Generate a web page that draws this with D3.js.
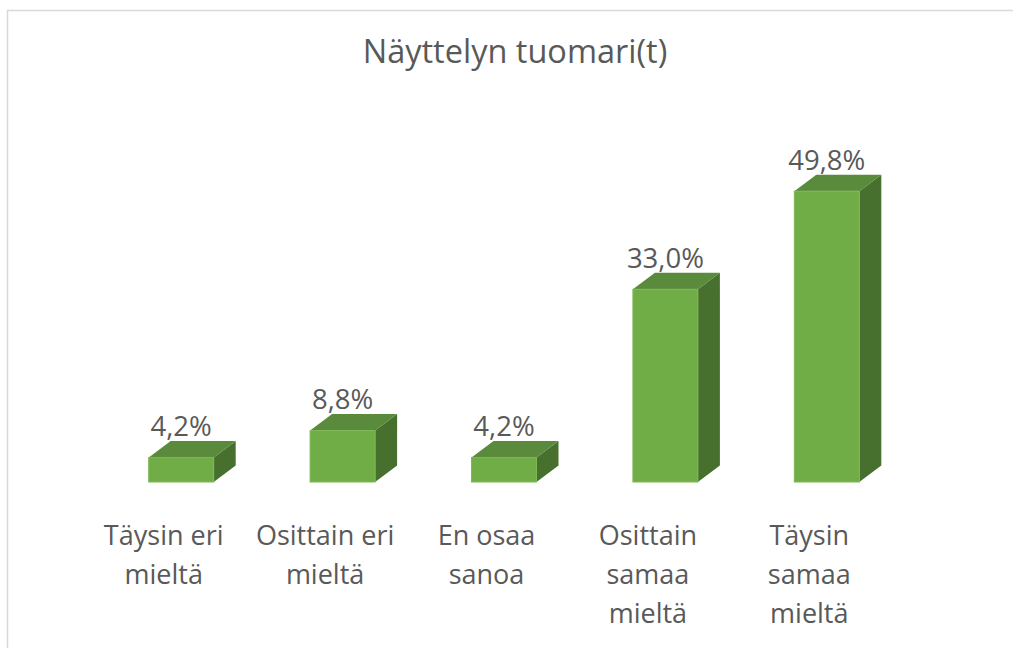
<!DOCTYPE html>
<html>
<head>
<meta charset="utf-8">
<script src="https://cdn.jsdelivr.net/npm/d3@7"></script>
<style>
  body { margin: 0; background: #fff; }
  text { font-family: "Open Sans", sans-serif; fill: #595959; }
</style>
</head>
<body>
<div id="chart"></div>
<script>
// chart data
const title = "Näyttelyn tuomari(t)";
const categories = [
    ["Täysin eri", "mieltä"],
    ["Osittain eri", "mieltä"],
    ["En osaa", "sanoa"],
    ["Osittain", "samaa", "mieltä"],
    ["Täysin", "samaa", "mieltä"]
];
const values = [4.2, 8.8, 4.2, 33.0, 49.8];

const width = 1013, height = 648;
const baseY = 482;
const depthX = 22, depthY = 16.5;   // 3D offset of the boxes
const barW = 65;

const svg = d3.select("#chart")
    .append("svg")
    .attr("width", width)
    .attr("height", height);

// chart area border (only top and left edge are visible in the crop)
svg.append("rect")
    .attr("x", 7.5).attr("y", 10.5)
    .attr("width", 1020).attr("height", 660)
    .attr("fill", "none")
    .attr("stroke", "#d9d9d9")
    .attr("stroke-width", 1.5);

const x = d3.scaleBand()
    .domain(d3.range(categories.length))
    .range([83, 890]);

const y = d3.scaleLinear()
    .domain([0, 50])
    .range([baseY, baseY - 292]);

svg.append("text")
    .attr("x", 515)
    .attr("y", 63)
    .attr("text-anchor", "middle")
    .style("font-size", "32.5px")
    .text(title);

const barX = i => x(i) + x.bandwidth() / 2 + 17.5 - barW / 2;

const bars = svg.append("g")
    .selectAll("g")
    .data(values)
    .join("g");

// side face
bars.append("path")
    .attr("d", (d, i) => {
        const x1 = barX(i) + barW, y0 = y(d);
        return `M${x1},${y0} L${x1 + depthX},${y0 - depthY} L${x1 + depthX},${baseY - depthY} L${x1},${baseY} Z`;
    })
    .attr("fill", "#476f2d");

// top face
bars.append("path")
    .attr("d", (d, i) => {
        const x0 = barX(i), y0 = y(d);
        return `M${x0},${y0} L${x0 + depthX},${y0 - depthY} L${x0 + barW + depthX},${y0 - depthY} L${x0 + barW},${y0} Z`;
    })
    .attr("fill", "#5a8a3b");

// front face
bars.append("rect")
    .attr("x", (d, i) => barX(i))
    .attr("y", d => y(d))
    .attr("width", barW)
    .attr("height", d => baseY - y(d))
    .attr("fill", "#70ad47")
    .attr("stroke", "#7cb855")
    .attr("stroke-width", 1);

// value labels
bars.append("text")
    .attr("x", (d, i) => barX(i) + barW / 2)
    .attr("y", d => y(d) - depthY - 5)
    .attr("text-anchor", "middle")
    .style("font-size", "27.5px")
    .text(d => d3.format(".1f")(d).replace(".", ",") + "%");

// category labels
const labels = svg.append("g")
    .selectAll("text")
    .data(categories)
    .join("text")
    .attr("x", (d, i) => x(i) + x.bandwidth() / 2)
    .attr("y", 545)
    .attr("text-anchor", "middle")
    .style("font-size", "27px");

labels.selectAll("tspan")
    .data(d => d)
    .join("tspan")
    .attr("x", function () { return this.parentNode.getAttribute("x"); })
    .attr("dy", (d, i) => i === 0 ? 0 : 39)
    .text(d => d);
</script>
</body>
</html>
